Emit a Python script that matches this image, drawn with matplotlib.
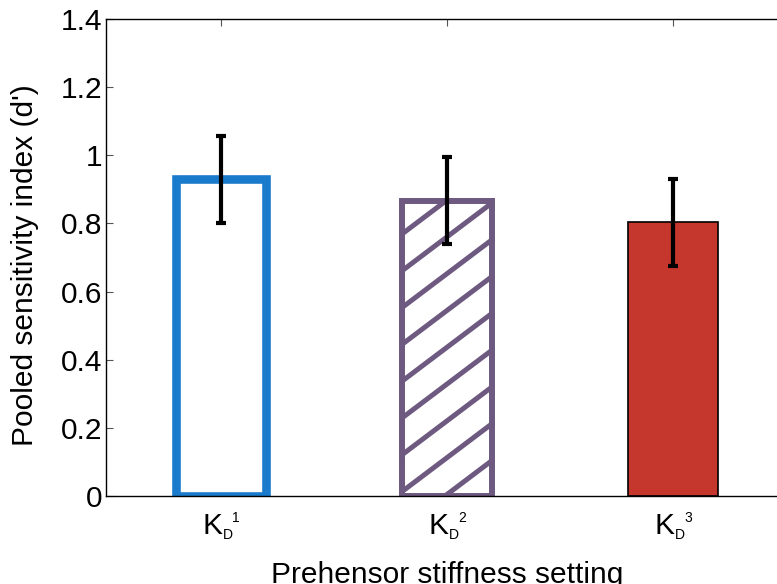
import numpy as np
import matplotlib
matplotlib.use('Agg')
from matplotlib import pyplot as plt
from matplotlib import transforms
from matplotlib.collections import LineCollection

plt.rcParams['font.family'] = ['Liberation Sans', 'DejaVu Sans']

positions = [1, 2, 3]
setting_base = 'K'
setting_sub = 'D'
setting_sup = ['1', '2', '3']
d_prime = [0.930, 0.867, 0.803]
d_err = [0.128, 0.128, 0.128]

blue = '#1a7bcc'
purple = '#6e5a80'
red = '#c5362c'


def hatch_bar(ax, patch, color, spacing=0.108, slope=0.5, lw=3.6):
    # coarse diagonal hatch, clipped to the bar
    x0, y0 = patch.get_x(), patch.get_y()
    w = patch.get_width()
    segs = []
    for k in range(-12, 12):
        yl = y0 + 0.0126 + k * spacing
        segs.append([(x0, yl), (x0 + w, yl + slope * w)])
    lc = LineCollection(segs, colors=color, linewidths=lw, zorder=patch.get_zorder())
    ax.add_collection(lc)
    lc.set_clip_path(patch)


def tick_label(ax, x, sup):
    # K with subscript D and superscript n, MATLAB style
    trans = transforms.blended_transform_factory(ax.transData, ax.transAxes)
    kw = dict(xycoords=trans, textcoords='offset pixels', va='baseline', ha='left',
              annotation_clip=False)
    ax.annotate(setting_base, (x, 0), xytext=(-18.5, -38), fontsize=21.5, **kw)
    ax.annotate(setting_sub, (x, 0), xytext=(1.5, -43), fontsize=10, **kw)
    ax.annotate(sup, (x, 0), xytext=(11, -26.5), fontsize=10, **kw)


def main():
    fig = plt.figure(figsize=(7.77, 5.84), dpi=100)
    ax = fig.add_axes([0.1364, 0.1507, 0.875, 0.8168])

    b1 = ax.bar(positions[0], d_prime[0], width=0.4, facecolor='white',
                edgecolor=blue, linewidth=6.2, zorder=2)
    b2 = ax.bar(positions[1], d_prime[1], width=0.4, facecolor='white',
                edgecolor=purple, linewidth=4.3, zorder=2)
    b3 = ax.bar(positions[2], d_prime[2], width=0.4, facecolor=red,
                edgecolor='black', linewidth=1.2, zorder=2)
    hatch_bar(ax, b2.patches[0], purple)

    ax.errorbar(positions, d_prime, yerr=d_err, fmt='none', ecolor='black',
                elinewidth=3, capsize=3.4, capthick=3, zorder=4)

    ax.set_xlim(0.49, 3.5)
    ax.set_ylim(0, 1.4)
    ax.set_yticks([0, 0.2, 0.4, 0.6, 0.8, 1, 1.2, 1.4])
    ax.set_yticklabels(['0', '0.2', '0.4', '0.6', '0.8', '1', '1.2', '1.4'])
    ax.set_xticks(positions)
    ax.set_xticklabels([])
    for x, s in zip(positions, setting_sup):
        tick_label(ax, x, s)

    ax.tick_params(direction='in', length=5, width=0.8, color='#555555',
                   labelsize=21.5, top=True, right=True)
    ax.tick_params(axis='y', pad=2.7)
    for s in ax.spines.values():
        s.set_linewidth(1.0)
        s.set_color('black')

    ax.set_ylabel("Pooled sensitivity index (d')", fontsize=21.5, va='baseline')
    ax.yaxis.set_label_coords(-0.107, 0.485)
    ax.set_xlabel('Prehensor stiffness setting', fontsize=21.5, va='baseline')
    ax.xaxis.set_label_coords(0.502, -0.1815)

    fig.savefig('out.png', dpi=100)


if __name__ == '__main__':
    main()
